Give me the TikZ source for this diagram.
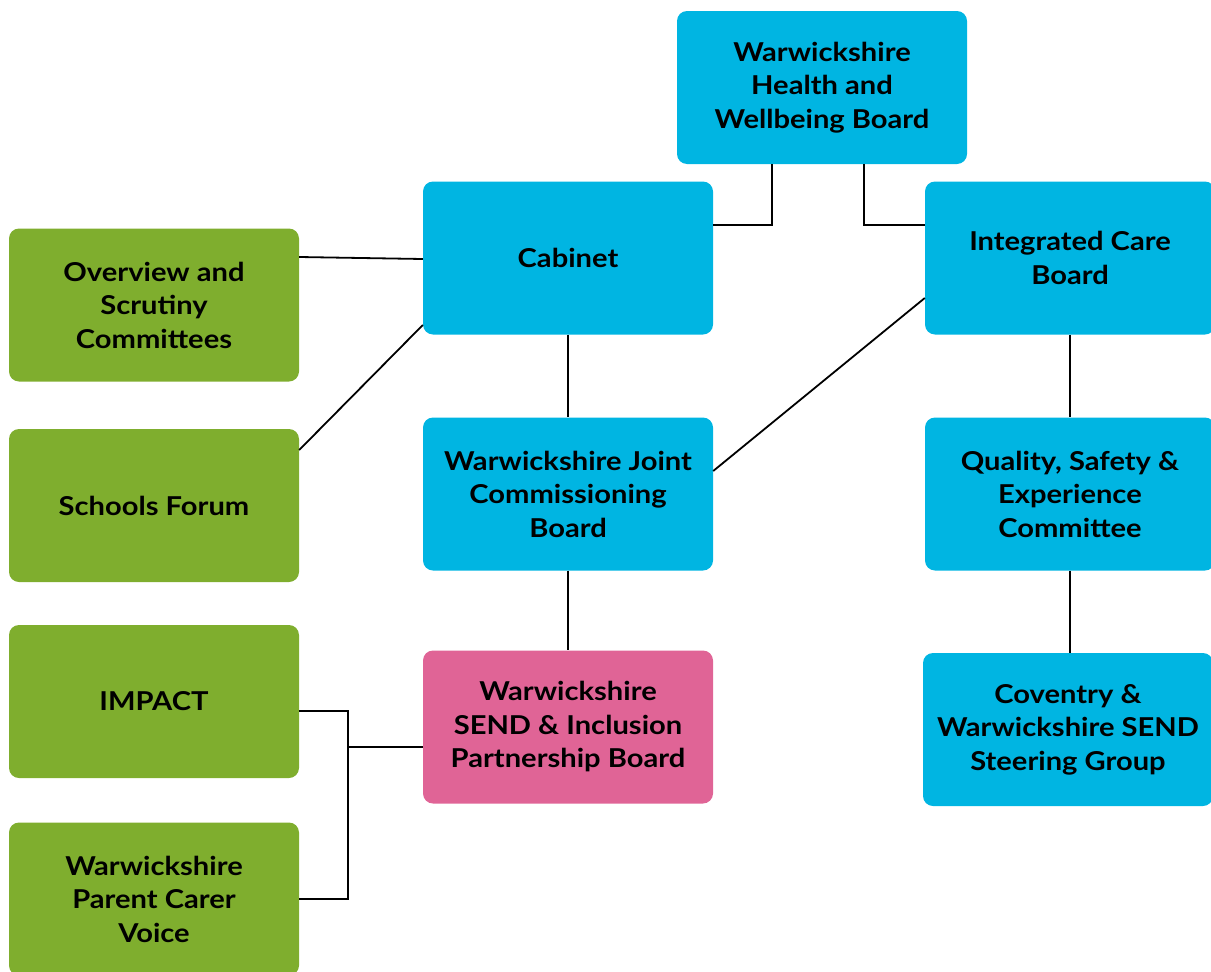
\documentclass[tikz,border=0pt]{standalone}
\usepackage{fontspec}
\setmainfont{Lato}[FakeStretch=1.12]
\begin{document}
\begin{tikzpicture}[x=1pt,y=-1pt,
  box/.style={rectangle, rounded corners=10pt, minimum width=290pt, minimum height=153pt,
    inner sep=0pt, align=center, text=black,
    font=\fontsize{26}{33.5}\selectfont\bfseries},
  bluebox/.style={box, fill=skyblue},
  greenbox/.style={box, fill=leafgreen},
  pinkbox/.style={box, fill=rosepink},
  link/.style={draw=black, line width=1.8pt}]
\definecolor{skyblue}{RGB}{0,181,226}
\definecolor{leafgreen}{RGB}{127,174,46}
\definecolor{rosepink}{RGB}{224,100,150}
\useasboundingbox (0,0) rectangle (1211,972);

% boards
\node[bluebox] (hwb) at (822,87.5) {Warwickshire\\Health and\\Wellbeing Board};
\node[bluebox] (cab) at (568,258) {Cabinet};
\node[bluebox] (icb) at (1070,258) {Integrated Care\\Board};
\node[greenbox] (ovs) at (154,305) {Overview and\\Scrutiny\\Committees};
\node[greenbox] (sch) at (154,505.5) {Schools Forum};
\node[bluebox] (wjcb) at (568,494) {Warwickshire Joint\\Commissioning\\Board};
\node[bluebox] (qse) at (1070,494) {Quality, Safety \&\\Experience\\Committee};
\node[greenbox] (imp) at (154,701.5) {IMPACT};
\node[pinkbox] (send) at (568,727) {Warwickshire\\SEND \& Inclusion\\Partnership Board};
\node[bluebox] (cov) at (1068,729.5) {Coventry \&\\Warwickshire SEND\\Steering Group};
\node[greenbox] (pcv) at (154,899) {Warwickshire\\Parent Carer\\Voice};

% junction points of the bracket on the left
\coordinate (jt) at (348,711);
\coordinate (jm) at (348,747);
\coordinate (jb) at (348,899);

% connectors
\draw[link] ([xshift=-50pt]hwb.south) |- ([yshift=33pt]cab.east);
\draw[link] ([xshift=42pt]hwb.south) |- ([yshift=33pt]icb.west);
\draw[link] ([yshift=48pt]ovs.east) -- ([yshift=-1pt]cab.west);
\draw[link] ([yshift=55.5pt]sch.east) -- ([yshift=-67pt]cab.west);
\draw[link] (cab.south) -- (wjcb.north);
\draw[link] ([yshift=-40pt]icb.west) -- ([yshift=23pt]wjcb.east);
\draw[link] (wjcb.south) -- (send.north);
\draw[link] (icb.south) -- (qse.north);
\draw[link] (qse.south) -- (qse.south |- cov.north);
\draw[link] ([yshift=-9.5pt]imp.east) -- (jt) -- (jb) -- (pcv.east);
\draw[link] (jm) -- ([yshift=-20pt]send.west);
\end{tikzpicture}
\end{document}
